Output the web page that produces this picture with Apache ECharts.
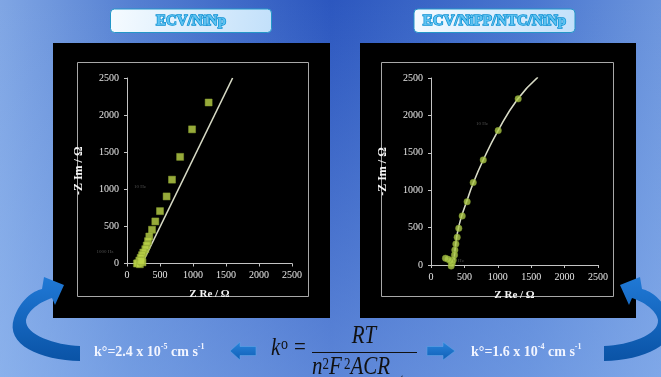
<!DOCTYPE html>
<html>
<head>
<meta charset="utf-8">
<title>Nyquist ECV/NiNp</title>
<script src="https://cdn.jsdelivr.net/npm/echarts@6/dist/echarts.min.js"></script>
<style>
  html, body { margin: 0; padding: 0; }
  #main { width: 661px; height: 377px; }
</style>
</head>
<body>
<div id="main"></div>
<script>
  // escalas de los ejes (ohm)
  var axisMin = 0
  var axisMax = 2500
  var axisStep = 500

  var titles = ['ECV/NiNp', 'ECV/NiPP/NTC/NiNp']
  var xName = 'Z Re / Ω'
  var yName = '-Z Im / Ω'

  // ECV/NiNp : puntos experimentales [Z Re, -Z Im]
  var niNpPoints = [
    [1237, 2170], [986, 1808], [805, 1437], [682, 1130], [600, 904],
    [500, 706], [429, 567], [379, 455], [338, 364], [318, 301],
    [298, 243], [277, 193], [247, 148], [227, 112], [207, 77],
    [187, 40], [167, 4], [150, 0], [195, -10], [235, 15], [215, 35]
  ]
  // ECV/NiNp : ajuste
  var niNpFit = [[230, 0], [1600, 2500]]

  // ECV/NiPP/NTC/NiNp : puntos experimentales
  var niPPPoints = [
    [1305, 2221], [1006, 1797], [782, 1405], [632, 1102], [541, 846],
    [467, 655], [416, 490], [392, 370], [372, 281], [357, 200],
    [352, 134], [332, 67], [317, 23], [302, -13], [292, 53],
    [257, 76], [217, 90]
  ]
  // ECV/NiPP/NTC/NiNp : ajuste
  var niPPFit = [
    [330, 0], [350, 120], [370, 280], [400, 450], [450, 630], [530, 840],
    [630, 1090], [780, 1400], [1000, 1790], [1290, 2210], [1600, 2510]
  ]

  var kLeft = '{a|k°=2.4 x 10}{s|-5}{a| cm s}{s|-1}'
  var kRight = '{a|k°=1.6 x 10}{s|-4}{a| cm s}{s|-1}'

  var serif = '"Liberation Serif", "DejaVu Serif", serif'

  function plain(v) {
    return String(v)
  }

  function xAxisOf(idx) {
    return {
      gridIndex: idx,
      type: 'value',
      min: axisMin,
      max: axisMax,
      interval: axisStep,
      z: 3,
      name: xName,
      nameLocation: 'middle',
      nameGap: 25,
      nameTextStyle: { color: '#f4f4f4', fontFamily: serif, fontWeight: 'bold', fontSize: 11 },
      axisLine: { show: true, lineStyle: { color: '#c4c4c4', width: 1 } },
      axisTick: { show: true, length: 3, lineStyle: { color: '#c4c4c4' } },
      axisLabel: { color: '#e6e6e6', fontFamily: serif, fontSize: 10, margin: 7, formatter: plain },
      splitLine: { show: false }
    }
  }

  function yAxisOf(idx) {
    return {
      gridIndex: idx,
      type: 'value',
      min: axisMin,
      max: axisMax,
      interval: axisStep,
      z: 3,
      name: yName,
      nameLocation: 'middle',
      nameGap: 42,
      nameRotate: 90,
      nameTextStyle: { color: '#f4f4f4', fontFamily: serif, fontWeight: 'bold', fontSize: 12 },
      axisLine: { show: true, lineStyle: { color: '#c4c4c4', width: 1 } },
      axisTick: { show: true, length: 3, lineStyle: { color: '#c4c4c4' } },
      axisLabel: { color: '#e6e6e6', fontFamily: serif, fontSize: 10, margin: 8, formatter: plain },
      splitLine: { show: false }
    }
  }

  function titleBox(x, text) {
    return [{
      type: 'rect', z: -5,
      shape: { x: x, y: 9, width: 161, height: 23.5, r: 4 },
      style: {
        fill: new echarts.graphic.LinearGradient(0, 0, 1, 1, [
          { offset: 0, color: '#f6fbff' },
          { offset: 1, color: '#c2e0fa' }
        ]),
        stroke: '#2496c8', lineWidth: 1
      }
    }, {
      type: 'text', z: 10,
      x: x + 80.5, y: 21,
      style: {
        text: text, fontFamily: serif, fontWeight: 'bold', fontSize: 15,
        fill: '#5ec3f2', stroke: '#0c8fd2', lineWidth: 1.4,
        align: 'center', verticalAlign: 'middle'
      }
    }]
  }

  function faint(x, y, t) {
    return {
      type: 'text', z: 10, x: x, y: y,
      style: { text: t, fontFamily: serif, fontSize: 5, fill: '#505050', align: 'center', verticalAlign: 'middle' }
    }
  }

  // contorno de flecha -> puntos de polígono (curvas de Bézier muestreadas)
  function outline(start, segs) {
    var pts = [start.slice()]
    var cur = start.slice()
    segs.forEach(function (s) {
      if (s.length === 2) {
        pts.push(s.slice())
        cur = s.slice()
      } else {
        for (var k = 1; k <= 16; k++) {
          var t = k / 16, u = 1 - t
          pts.push([
            u * u * u * cur[0] + 3 * u * u * t * s[0] + 3 * u * t * t * s[2] + t * t * t * s[4],
            u * u * u * cur[1] + 3 * u * u * t * s[1] + 3 * u * t * t * s[3] + t * t * t * s[5]
          ])
        }
        cur = [s[4], s[5]]
      }
    })
    return pts
  }
  function mirror(pts, c) {
    return pts.map(function (p) { return [c - p[0], p[1]] })
  }

  var leftArrow = outline([80, 361], [
    [40, 360, 5, 345, 14, 318],
    [20, 300, 33, 291, 42, 289],
    [44, 277], [64, 285], [55, 305], [52, 298],
    [40, 302, 28, 310, 26, 320],
    [25, 335, 55, 345, 80, 346]
  ])
  var rightArrow = mirror(leftArrow, 684)

  var arrowFill = new echarts.graphic.LinearGradient(0, 0, 0, 1, [
    { offset: 0, color: '#2079d6' },
    { offset: 1, color: '#0a53a6' }
  ])
  var blockFill = new echarts.graphic.LinearGradient(0, 0, 0, 1, [
    { offset: 0, color: '#2a84dc' },
    { offset: 1, color: '#0f5fb6' }
  ])

  // fórmula: se dibuja sin escalar y el grupo se estira en vertical
  var mathFont = 'italic 21px "Liberation Serif", serif'
  var romanFont = '21px "Liberation Serif", serif'
  var supFont = '13px "Liberation Serif", serif'
  function piece(x, y, t, font, align) {
    return { type: 'text', x: x, y: y, style: { text: t, font: font, fill: '#111', align: align || 'left', verticalAlign: 'middle' } }
  }
  var formula = {
    type: 'group', z: 10,
    x: 0, y: 352, scaleY: 1.23,
    children: [
      piece(271, 349 - 352, 'k', mathFont),
      piece(281, 345.5 - 352, 'o', '14px "Liberation Serif", serif'),
      piece(294, 349 - 352, '=', romanFont),
      piece(364, 339.2 - 352, 'RT', mathFont, 'center'),
      piece(312, 364 - 352, 'n', mathFont),
      piece(322.5, 362.5 - 352, '2', supFont),
      piece(329, 364 - 352, 'F', mathFont),
      piece(344, 362.5 - 352, '2', supFont),
      piece(350.5, 364 - 352, 'ACR', mathFont),
      piece(394, 375.5 - 352, 'ct', 'italic 13px "Liberation Serif", serif')
    ]
  }

  var kRich = {
    a: { fontFamily: serif, fontWeight: 'bold', fontSize: 14, fill: '#f2f5ff', lineHeight: 17, verticalAlign: 'bottom' },
    s: { fontFamily: serif, fontWeight: 'bold', fontSize: 8, fill: '#f2f5ff', verticalAlign: 'top' }
  }

  var graphics = [
    // fondo
    {
      type: 'rect', z: -20,
      shape: { x: 0, y: 0, width: 661, height: 377 },
      style: {
        fill: new echarts.graphic.LinearGradient(0, 0, 1, 0, [
          { offset: 0, color: '#80a6e4' },
          { offset: 0.2, color: '#5580d2' },
          { offset: 0.5, color: '#2c57bf' },
          { offset: 0.8, color: '#4976cf' },
          { offset: 1, color: '#6c95dd' }
        ])
      }
    },
    {
      type: 'rect', z: -19,
      shape: { x: 0, y: 0, width: 661, height: 377 },
      style: {
        fill: new echarts.graphic.LinearGradient(0, 0, 0, 1, [
          { offset: 0, color: 'rgba(150,190,245,0)' },
          { offset: 1, color: 'rgba(150,190,245,0.45)' }
        ])
      }
    },
    // paneles negros
    { type: 'rect', z: -10, shape: { x: 53, y: 43, width: 277, height: 275 }, style: { fill: '#000' } },
    { type: 'rect', z: -10, shape: { x: 360, y: 43, width: 276, height: 275 }, style: { fill: '#000' } },
    // marcos
    { type: 'rect', z: -9, shape: { x: 77.5, y: 62.5, width: 231, height: 234 }, style: { fill: 'none', stroke: '#a8a8a8', lineWidth: 1 } },
    { type: 'rect', z: -9, shape: { x: 381.5, y: 62.5, width: 232, height: 234 }, style: { fill: 'none', stroke: '#a8a8a8', lineWidth: 1 } },
    // flechas curvas
    { type: 'polygon', z: 10, shape: { points: leftArrow }, style: { fill: arrowFill } },
    { type: 'polygon', z: 10, shape: { points: rightArrow }, style: { fill: arrowFill } },
    // flechas de bloque
    {
      type: 'polygon', z: 10,
      shape: { points: [[230, 351], [240, 342], [240, 346.5], [256, 346.5], [256, 355.5], [240, 355.5], [240, 360]] },
      style: { fill: blockFill, stroke: '#5ea2e6', lineWidth: 0.6 }
    },
    {
      type: 'polygon', z: 10,
      shape: { points: [[455, 351], [443, 342], [443, 346.5], [427, 346.5], [427, 355.5], [443, 355.5], [443, 360]] },
      style: { fill: blockFill, stroke: '#5ea2e6', lineWidth: 0.6 }
    },
    // valores de k
    { type: 'text', z: 10, x: 94, y: 351, style: { text: kLeft, align: 'left', verticalAlign: 'middle', rich: kRich } },
    { type: 'text', z: 10, x: 471, y: 351, style: { text: kRight, align: 'left', verticalAlign: 'middle', rich: kRich } },
    // fórmula
    { type: 'line', z: 10, shape: { x1: 312, y1: 352.5, x2: 417, y2: 352.5 }, style: { stroke: '#111', lineWidth: 1.2 } },
    formula,
    // etiquetas de frecuencia (tenues)
    faint(140, 187, '10 Hz'),
    faint(105, 252, '1000 Hz'),
    faint(482, 124, '10 Hz'),
    faint(461, 261, 'Hz')
  ].concat(titleBox(110.5, titles[0]), titleBox(414, titles[1]))

  var chart = echarts.init(document.getElementById('main'), null, { renderer: 'canvas' })
  var option = {
    animation: false,
    backgroundColor: 'transparent',
    grid: [
      { left: 127, top: 78, width: 165, height: 185.5 },
      { left: 431, top: 78, width: 167, height: 187 }
    ],
    xAxis: [xAxisOf(0), xAxisOf(1)],
    yAxis: [yAxisOf(0), yAxisOf(1)],
    graphic: { elements: graphics },
    series: [{
      type: 'line',
      xAxisIndex: 0, yAxisIndex: 0,
      data: niNpFit,
      symbol: 'none',
      z: 4,
      lineStyle: { color: '#d8dbc6', width: 1.6 }
    }, {
      type: 'scatter',
      xAxisIndex: 0, yAxisIndex: 0,
      data: niNpPoints,
      symbol: 'rect',
      symbolSize: 7,
      clip: false,
      z: 5,
      itemStyle: { color: '#bdd448', borderColor: '#8ea532', borderWidth: 0.6 }
    }, {
      type: 'line',
      xAxisIndex: 1, yAxisIndex: 1,
      data: niPPFit,
      smooth: true,
      symbol: 'none',
      z: 4,
      lineStyle: { color: '#d8dbc6', width: 1.6 }
    }, {
      type: 'scatter',
      xAxisIndex: 1, yAxisIndex: 1,
      data: niPPPoints,
      symbol: 'circle',
      symbolSize: 6.5,
      clip: false,
      z: 5,
      itemStyle: { color: '#aec94a', borderColor: '#7f9a2c', borderWidth: 0.6 }
    }]
  }
  chart.setOption(option)
  window.addEventListener('resize', function () {
    chart.resize()
  })
</script>
</body>
</html>
